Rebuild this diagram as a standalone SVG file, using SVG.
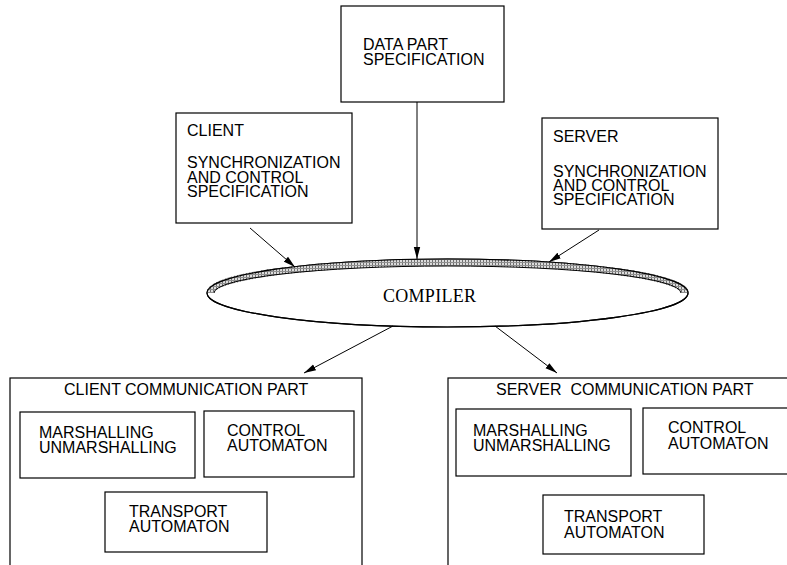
<svg xmlns="http://www.w3.org/2000/svg" width="787" height="565" viewBox="0 0 787 565">
<style>
.box{fill:#fff;stroke:#000;stroke-width:1.2}
.t{font-family:"Liberation Sans",Arial,sans-serif;font-size:16px;fill:#000}
.c{stroke:#000;stroke-width:1;fill:none}
</style>
<defs>
<marker id="ah" markerWidth="13" markerHeight="8" refX="12" refY="4" orient="auto" markerUnits="userSpaceOnUse">
<path d="M0,0.8 L12,4 L0,7.2 Z" fill="#000"/>
</marker>
<pattern id="hatch" width="3" height="3" patternUnits="userSpaceOnUse">
<rect width="3" height="3" fill="#dcdcdc"/>
<rect x="0" y="0" width="1" height="3" fill="#707070"/>
<rect x="0" y="1" width="3" height="1" fill="#909090"/>
</pattern>
</defs>
<rect width="787" height="565" fill="#fff"/>

<g id="data">
<rect class="box" x="341" y="6" width="163" height="96"/>
<text class="t" x="363" y="49.5">DATA PART</text>
<text class="t" x="363" y="65">SPECIFICATION</text>
</g>

<g id="client">
<rect class="box" x="176" y="113" width="176" height="110"/>
<text class="t" x="187" y="136">CLIENT</text>
<text class="t" x="187" y="168">SYNCHRONIZATION</text>
<text class="t" x="187" y="183">AND CONTROL</text>
<text class="t" x="187" y="197">SPECIFICATION</text>
</g>

<g id="server">
<rect class="box" x="542" y="118" width="176" height="111"/>
<text class="t" x="553" y="142">SERVER</text>
<text class="t" x="553" y="176.5">SYNCHRONIZATION</text>
<text class="t" x="553" y="191">AND CONTROL</text>
<text class="t" x="553" y="205">SPECIFICATION</text>
</g>

<g id="compiler">
<ellipse cx="447.5" cy="293" rx="240.5" ry="34" fill="#fff" stroke="#000" stroke-width="1.2"/>
<path d="M 210 293 A 237 30.5 0 0 1 685 293" fill="none" stroke="url(#hatch)" stroke-width="7"/>
<path d="M 214 293 A 233.5 27 0 0 1 681 293" fill="none" stroke="#000" stroke-width="1"/>
<ellipse cx="447.5" cy="293" rx="240.5" ry="34" fill="none" stroke="#000" stroke-width="1.2"/>
<text x="383" y="302" font-family="'Liberation Serif','Times New Roman',serif" font-size="18" textLength="93">COMPILER</text>
</g>

<g id="clientcomm">
<rect class="box" x="10" y="378" width="352" height="200"/>
<text class="t" x="64" y="395">CLIENT COMMUNICATION PART</text>
</g>
<g id="cmarsh">
<rect class="box" x="20" y="412" width="175" height="66"/>
<text class="t" x="39" y="438">MARSHALLING</text>
<text class="t" x="39" y="453">UNMARSHALLING</text>
</g>
<g id="ccontrol">
<rect class="box" x="204" y="411" width="150" height="66"/>
<text class="t" x="227" y="436">CONTROL</text>
<text class="t" x="227" y="451">AUTOMATON</text>
</g>
<g id="ctransport">
<rect class="box" x="105" y="492" width="162" height="60"/>
<text class="t" x="129" y="517">TRANSPORT</text>
<text class="t" x="129" y="532">AUTOMATON</text>
</g>

<g id="servercomm">
<rect class="box" x="448" y="378" width="360" height="200"/>
<text class="t" x="496" y="395" xml:space="preserve">SERVER  COMMUNICATION PART</text>
</g>
<g id="smarsh">
<rect class="box" x="456" y="409" width="175" height="67"/>
<text class="t" x="473" y="436">MARSHALLING</text>
<text class="t" x="473" y="451">UNMARSHALLING</text>
</g>
<g id="scontrol">
<rect class="box" x="643" y="408" width="160" height="66"/>
<text class="t" x="668" y="433">CONTROL</text>
<text class="t" x="668" y="449">AUTOMATON</text>
</g>
<g id="stransport">
<rect class="box" x="543" y="495" width="161" height="59"/>
<text class="t" x="564" y="522">TRANSPORT</text>
<text class="t" x="564" y="538">AUTOMATON</text>
</g>

<g id="connectors">
<line class="c" x1="417" y1="102" x2="417" y2="259" marker-end="url(#ah)"/>
<line class="c" x1="250" y1="228" x2="295" y2="267" marker-end="url(#ah)"/>
<line class="c" x1="599" y1="230" x2="549" y2="262" marker-end="url(#ah)"/>
<line class="c" x1="393" y1="326" x2="304" y2="373" marker-end="url(#ah)"/>
<line class="c" x1="495" y1="326" x2="557" y2="373" marker-end="url(#ah)"/>
</g>
</svg>
